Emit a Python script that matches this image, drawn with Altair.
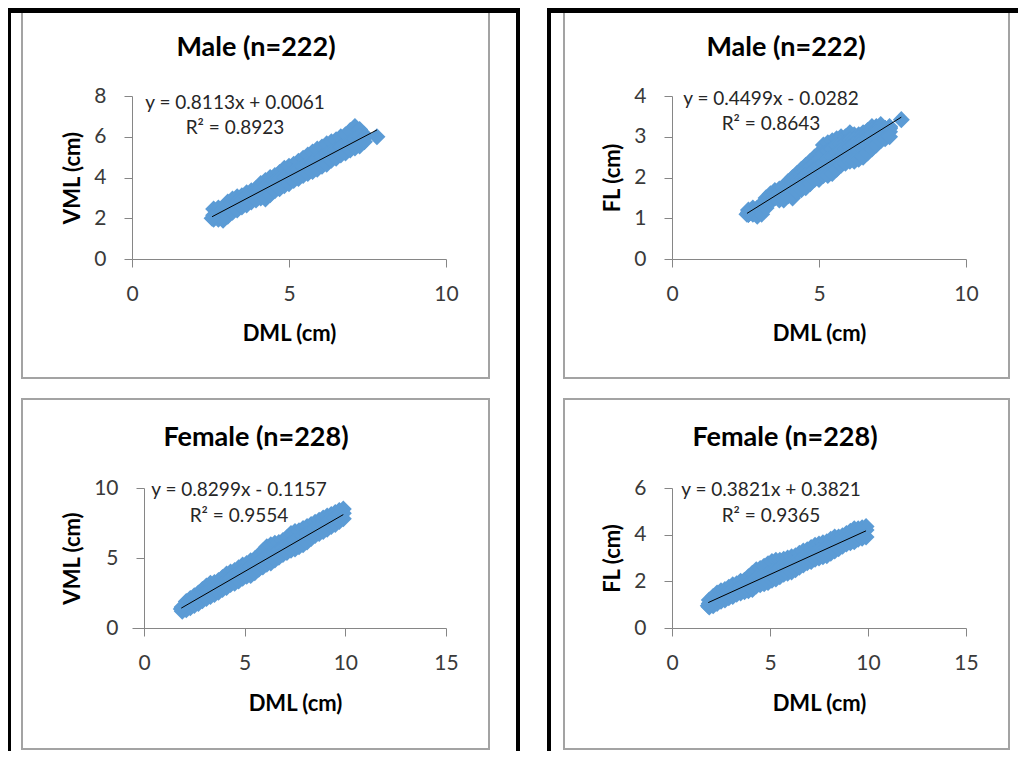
import altair as alt
import pandas as pd

# ---------------- data ----------------
# Male: DML grid with upper / middle / lower parts of the point cloud
male_dml = [2.60, 2.75, 2.90, 3.05, 3.20, 3.35, 3.50, 3.65, 3.80, 3.95, 4.10, 4.25, 4.40, 4.55,
            4.70, 4.85, 5.00, 5.15, 5.30, 5.45, 5.60, 5.75, 5.90, 6.05, 6.20, 6.35, 6.50, 6.65,
            6.80, 6.95, 7.10, 7.25, 7.40]
male_vml_hi = [2.45, 2.50, 2.45, 2.80, 2.95, 3.05, 3.10, 3.25, 3.35, 3.45, 3.70, 3.85, 4.00, 4.10,
               4.25, 4.45, 4.55, 4.65, 4.80, 4.95, 5.10, 5.25, 5.40, 5.50, 5.65, 5.75, 5.85, 6.00,
               6.10, 6.30, 6.50, 6.35, 6.10]
male_vml_mid = [2.15, 2.20, 2.40, 2.55, 2.65, 2.80, 2.90, 3.05, 3.15, 3.30, 3.40, 3.55, 3.65, 3.80,
                3.90, 4.00, 4.15, 4.30, 4.40, 4.50, 4.65, 4.75, 4.90, 5.00, 5.15, 5.25, 5.35, 5.50,
                5.60, 5.75, 5.90, 6.00, 5.95]
male_vml_lo = [1.95, 1.95, 1.90, 2.10, 2.30, 2.40, 2.55, 2.65, 2.80, 2.90, 3.00, 2.95, 3.15, 3.35,
               3.45, 3.60, 3.70, 3.85, 3.95, 4.10, 4.20, 4.30, 4.40, 4.55, 4.65, 4.85, 4.95, 5.10,
               5.20, 5.35, 5.45, 5.55, 5.75]
male_vml_extra = [(2.55, 2.00), (7.80, 6.00)]

male_fl_hi = [1.20, 1.25, 1.25, 1.35, 1.50, 1.60, 1.68, 1.72, 1.75, 1.90, 2.00, 2.10, 2.20, 2.30,
              2.40, 2.50, 2.60, 2.80, 2.85, 2.90, 2.95, 3.00, 3.00, 3.10, 3.05, 3.05, 3.10, 3.15,
              3.25, 3.25, 3.30, 3.20, 3.20]
male_fl_mid2 = [1.15, 1.20, 1.22, 1.32, 1.45, 1.52, 1.62, 1.68, 1.70, 1.82, 1.90, 2.00, 2.08, 2.18,
                2.25, 2.35, 2.42, 2.58, 2.65, 2.70, 2.78, 2.82, 2.85, 2.92, 2.92, 2.95, 3.00, 3.05,
                3.15, 3.18, 3.22, 3.20, 3.22]
male_fl_mid = [1.10, 1.15, 1.20, 1.30, 1.40, 1.45, 1.55, 1.62, 1.65, 1.75, 1.80, 1.90, 1.95, 2.05,
               2.10, 2.20, 2.25, 2.35, 2.45, 2.50, 2.60, 2.65, 2.70, 2.75, 2.80, 2.85, 2.90, 2.95,
               3.05, 3.10, 3.15, 3.20, 3.25]
male_fl_lo2 = [1.10, 1.12, 1.12, 1.20, 1.32, 1.42, 1.52, 1.52, 1.55, 1.65, 1.65, 1.78, 1.82, 1.90,
               1.98, 2.08, 2.10, 2.20, 2.25, 2.30, 2.40, 2.48, 2.52, 2.58, 2.60, 2.65, 2.70, 2.78,
               2.88, 2.95, 3.02, 3.08, 3.12]
male_fl_lo = [1.10, 1.10, 1.05, 1.10, 1.25, 1.40, 1.50, 1.45, 1.45, 1.55, 1.50, 1.65, 1.70, 1.75,
              1.85, 1.95, 1.95, 2.05, 2.05, 2.10, 2.20, 2.30, 2.35, 2.40, 2.40, 2.45, 2.50, 2.60,
              2.70, 2.80, 2.90, 2.95, 3.00]
male_fl_extra = [(2.55, 1.10), (7.80, 3.42)]

# Female
female_dml = [1.9, 2.1, 2.3, 2.5, 2.7, 2.9, 3.1, 3.3, 3.5, 3.7, 3.9, 4.1, 4.3, 4.5, 4.7, 4.9,
              5.1, 5.3, 5.5, 5.7, 5.9, 6.1, 6.3, 6.5, 6.7, 6.9, 7.1, 7.3, 7.5, 7.7, 7.9, 8.1,
              8.3, 8.5, 8.7, 8.9, 9.1, 9.3, 9.5, 9.7, 9.9]
female_vml_hi = [1.50, 1.90, 2.10, 2.30, 2.50, 2.75, 3.00, 3.20, 3.25, 3.40, 3.60, 3.85, 4.00, 4.10,
                 4.30, 4.50, 4.60, 4.80, 4.95, 5.15, 5.50, 5.80, 5.95, 6.05, 6.10, 6.25, 6.45, 6.75,
                 6.90, 6.95, 7.10, 7.25, 7.40, 7.55, 7.70, 7.85, 8.00, 8.10, 8.25, 8.40, 8.50]
female_vml_mid = [1.45, 1.70, 1.85, 2.05, 2.20, 2.40, 2.55, 2.75, 2.90, 3.05, 3.20, 3.40, 3.55, 3.75,
                  3.90, 4.05, 4.20, 4.40, 4.55, 4.70, 4.90, 5.10, 5.25, 5.40, 5.55, 5.70, 5.90, 6.05,
                  6.20, 6.40, 6.55, 6.70, 6.90, 7.05, 7.20, 7.40, 7.55, 7.70, 7.85, 8.05, 8.20]
female_vml_lo = [1.20, 1.30, 1.45, 1.60, 1.75, 1.95, 2.10, 2.25, 2.40, 2.55, 2.75, 2.90, 3.10, 3.20,
                 3.35, 3.55, 3.70, 3.75, 3.95, 4.20, 4.35, 4.55, 4.65, 4.85, 5.05, 5.25, 5.40, 5.55,
                 5.65, 5.80, 5.95, 6.15, 6.40, 6.60, 6.75, 6.90, 7.05, 7.25, 7.40, 7.60, 7.80]
female_vml_extra = [(1.85, 1.35)]

female_fl_hi = [1.20, 1.35, 1.50, 1.60, 1.65, 1.75, 1.85, 1.90, 2.00, 2.05, 2.20, 2.35, 2.50, 2.55,
                2.65, 2.75, 2.85, 2.90, 2.90, 2.95, 3.00, 3.05, 3.10, 3.20, 3.30, 3.35, 3.45, 3.55,
                3.60, 3.65, 3.70, 3.80, 3.90, 3.90, 3.95, 4.05, 4.15, 4.25, 4.25, 4.30, 4.35]
female_fl_mid = [1.05, 1.15, 1.25, 1.35, 1.45, 1.50, 1.60, 1.65, 1.75, 1.80, 1.90, 2.00, 2.10, 2.15,
                 2.25, 2.30, 2.40, 2.45, 2.55, 2.60, 2.70, 2.75, 2.85, 2.90, 3.00, 3.05, 3.15, 3.20,
                 3.30, 3.35, 3.45, 3.50, 3.60, 3.65, 3.75, 3.80, 3.90, 3.95, 4.05, 4.10, 4.20]
female_fl_lo = [0.90, 0.95, 1.05, 1.15, 1.20, 1.30, 1.35, 1.45, 1.50, 1.55, 1.60, 1.65, 1.80, 1.85,
                1.90, 1.95, 2.05, 2.10, 2.20, 2.30, 2.35, 2.40, 2.50, 2.60, 2.70, 2.80, 2.85, 2.95,
                3.00, 3.05, 3.10, 3.20, 3.30, 3.40, 3.50, 3.60, 3.65, 3.70, 3.80, 3.85, 3.90]
female_fl_extra = [(1.85, 0.95)]

titles = ["Male (n=222)", "Male (n=222)", "Female (n=228)", "Female (n=228)"]
y_titles = ["VML (cm)", "FL (cm)", "VML (cm)", "FL (cm)"]
x_title = "DML (cm)"
slopes = [0.8113, 0.4499, 0.8299, 0.3821]
intercepts = [0.0061, -0.0282, -0.1157, 0.3821]
eq_lines = [
    ("y = 0.8113x + 0.0061", "R² = 0.8923"),
    ("y = 0.4499x - 0.0282", "R² = 0.8643"),
    ("y = 0.8299x - 0.1157", "R² = 0.9554"),
    ("y = 0.3821x + 0.3821", "R² = 0.9365"),
]
x_ticks = [[0, 5, 10], [0, 5, 10], [0, 5, 10, 15], [0, 5, 10, 15]]
y_ticks = [[0, 2, 4, 6, 8], [0, 1, 2, 3, 4], [0, 5, 10], [0, 2, 4, 6]]

series = [
    (male_dml, [male_vml_hi, male_vml_mid, male_vml_lo], male_vml_extra),
    (male_dml, [male_fl_hi, male_fl_mid2, male_fl_mid, male_fl_lo2, male_fl_lo], male_fl_extra),
    (female_dml, [female_vml_hi, female_vml_mid, female_vml_lo], female_vml_extra),
    (female_dml, [female_fl_hi, female_fl_mid, female_fl_lo], female_fl_extra),
]

# ---------------- styling / layout ----------------
FONT = "Lato"
BLUE = "#5b9bd5"
GRAY = "#868686"
FRAME = "#a3a3a3"
LAB = "#3a3a3a"
ONE = pd.DataFrame({"k": [0]})

# view origin (abs px), view width/height, x-domain start, y-axis offset, decorations (abs px)
layout = [
    dict(ox=132, oy=95, w=314, h=163, xlo=0, yoff=0, ytx=-60, xty=74,
         title=(256, 47), eq=(235, 102, 127), frame=(22, 489, 8, 377),
         decor=[(8, 11, 7, 387), (8, 520, 7, 12), (516, 520, 7, 387)]),
    dict(ox=672, oy=95, w=294, h=163, xlo=0, yoff=0, ytx=-60, xty=74,
         title=(786, 47), eq=(771, 98, 123), frame=(564, 1009, 8, 377),
         decor=[(547, 551, 7, 387), (547, 1018, 7, 12)]),
    # bottom-left: its y axis sits 12px to the right of the column's common view origin
    dict(ox=132, oy=487, w=314, h=140, xlo=-0.596, yoff=-12, ytx=-72, xty=75,
         title=(256, 437), eq=(239, 489, 515), frame=(22, 489, 398, 748),
         decor=[(8, 11, 387, 750), (516, 520, 387, 750)]),
    dict(ox=672, oy=487, w=294, h=140, xlo=0, yoff=0, ytx=-60, xty=75,
         title=(785, 437), eq=(771, 489, 515), frame=(564, 1009, 398, 748),
         decor=[(547, 551, 387, 750)]),
]


def vrect(L, x1, x2, y1, y2, **props):
    return alt.Chart(ONE).mark_rect(**props).encode(
        x=alt.value(x1 - L["ox"]), x2=alt.value(x2 - L["ox"]),
        y=alt.value(y1 - L["oy"]), y2=alt.value(y2 - L["oy"]))


def vtext(L, txt, x, y, **props):
    return alt.Chart(pd.DataFrame({"t": [txt]})).mark_text(
        font=FONT, align="center", baseline="middle", **props).encode(
        text="t:N", x=alt.value(x - L["ox"]), y=alt.value(y - L["oy"]))


def panel(i):
    L = layout[i]
    xs, rows, extra = series[i]
    px, py = [], []
    for r in rows:
        px += xs
        py += r
    for (a, b) in extra:
        px.append(a)
        py.append(b)
    df = pd.DataFrame({"x": px, "y": py})
    xmin, xmax = min(px), max(px)
    line_df = pd.DataFrame({"x": [xmin, xmax],
                            "y": [slopes[i] * xmin + intercepts[i], slopes[i] * xmax + intercepts[i]]})
    xdom = [L["xlo"], x_ticks[i][-1]]
    ydom = [0, y_ticks[i][-1]]

    xaxis = alt.Axis(values=x_ticks[i], title=x_title, grid=False, domainColor=GRAY, tickColor=GRAY,
                     tickSize=8, labelFont=FONT, labelFontSize=21, labelColor=LAB, labelPadding=27,
                     labelBaseline="middle", labelFlush=False, labelOverlap=False,
                     titleFont=FONT, titleFontSize=22, titleFontWeight="bold", titleColor="black",
                     titleX=L["w"] / 2 - L["yoff"] / 2, titleY=L["xty"], titleBaseline="middle",
                     titleAlign="center")
    yaxis = alt.Axis(values=y_ticks[i], title=y_titles[i], grid=False, domainColor=GRAY, tickColor=GRAY,
                     tickSize=8, labelFont=FONT, labelFontSize=21, labelColor=LAB, labelPadding=18,
                     labelFlush=False, labelOverlap=False, offset=L["yoff"],
                     titleFont=FONT, titleFontSize=22, titleFontWeight="bold", titleColor="black",
                     titleX=L["ytx"], titleY=L["h"] / 2, titleBaseline="middle", titleAlign="center")

    fx1, fx2, fy1, fy2 = L["frame"]
    layers = [vrect(L, fx1, fx2, fy1, fy2, filled=False, stroke=FRAME, strokeWidth=2)]
    for (a, b, c, d) in L["decor"]:
        layers.append(vrect(L, a, b, c, d, color="black"))

    pts = alt.Chart(df).mark_point(shape="diamond", filled=True, size=290, color=BLUE, opacity=1).encode(
        x=alt.X("x:Q", scale=alt.Scale(domain=xdom, nice=False, zero=False), axis=xaxis),
        y=alt.Y("y:Q", scale=alt.Scale(domain=ydom, nice=False, zero=True), axis=yaxis))
    trend = alt.Chart(line_df).mark_line(color="black", strokeWidth=1).encode(x="x:Q", y="y:Q")
    layers += [pts, trend]

    tx, ty = L["title"]
    layers.append(vtext(L, titles[i], tx, ty, fontSize=27, fontWeight="bold", color="black"))
    ex, ey1, ey2 = L["eq"]
    layers.append(vtext(L, eq_lines[i][0], ex, ey1, fontSize=19, color="#262626"))
    layers.append(vtext(L, eq_lines[i][1], ex, ey2, fontSize=19, color="#262626"))

    return alt.layer(*layers).properties(width=L["w"], height=L["h"])


chart = alt.concat(panel(0), panel(1), panel(2), panel(3), columns=2,
                   spacing={"row": 0, "column": 27}).properties(padding=0).configure_view(stroke=None)

chart.save("out.html", embed_options={"renderer": "svg", "actions": False})
